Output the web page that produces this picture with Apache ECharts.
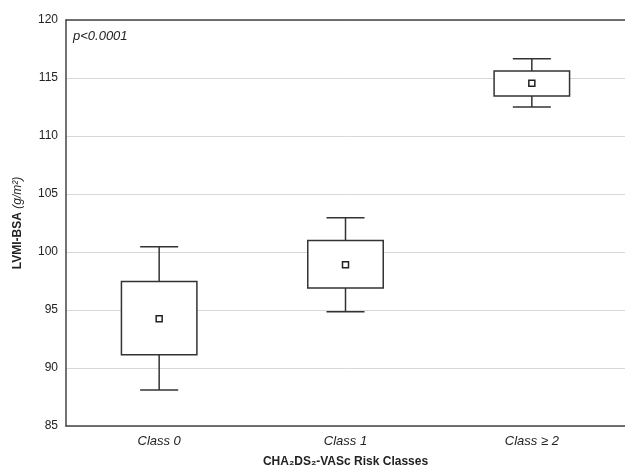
<!DOCTYPE html>
<html>
<head>
<meta charset="utf-8">
<script src="https://cdn.jsdelivr.net/npm/echarts@6/dist/echarts.min.js"></script>
<style>html,body{margin:0;padding:0;background:#fff;}#chart{width:625px;height:473px;}</style>
</head>
<body>
<div id="chart"></div>
<script>
var categories = ['Class 0', 'Class 1', 'Class \u2265 2'];
var whiskerLow = [88.1, 94.85, 112.5];
var boxLow = [91.15, 96.9, 113.45];
var boxHigh = [97.45, 101.0, 115.6];
var whiskerHigh = [100.45, 102.95, 116.65];
var meanValues = [94.25, 98.9, 114.55];
var yTicks = [85, 90, 95, 100, 105, 110, 115, 120];

var font = '"Liberation Sans", Arial, sans-serif';
var lineColor = '#333';

var boxData = categories.map(function (c, i) {
  return [i, whiskerLow[i], boxLow[i], boxHigh[i], whiskerHigh[i], meanValues[i]];
});

var chart = echarts.init(document.getElementById('chart'), null, {renderer: 'canvas'});
chart.setOption({
  backgroundColor: '#fff',
  animation: false,
  grid: {left: 66, top: 20, width: 560, height: 410, show: false},
  graphic: [{
    type: 'text', left: 73, top: 30,
    style: {text: 'p<0.0001', font: 'italic 13px ' + font, fill: '#222'}
  }],
  xAxis: [{
    type: 'category', data: categories,
    name: 'CHA\u2082DS\u2082-VASc Risk Classes', nameLocation: 'middle', nameGap: 30,
    nameTextStyle: {fontFamily: font, fontWeight: 'bold', fontSize: 12, color: '#222'},
    axisLine: {lineStyle: {color: '#444', width: 1.5}},
    axisTick: {inside: true, alignWithLabel: true, length: 4, lineStyle: {color: '#444'}},
    axisLabel: {fontFamily: font, fontStyle: 'italic', fontSize: 13, color: '#222', margin: 9},
    splitLine: {show: false}
  }, {
    type: 'category', data: categories, position: 'top',
    axisLine: {lineStyle: {color: '#444', width: 1.5}},
    axisTick: {show: false}, axisLabel: {show: false}, splitLine: {show: false}
  }],
  yAxis: {
    type: 'value', min: yTicks[0], max: yTicks[yTicks.length - 1], interval: 5,
    name: '{b|LVMI-BSA }{i|(g/m\u00b2)}', nameLocation: 'middle', nameGap: 42, nameRotate: 90,
    nameTextStyle: {rich: {
      b: {fontFamily: font, fontWeight: 'bold', fontSize: 12, color: '#222'},
      i: {fontFamily: font, fontStyle: 'italic', fontSize: 12, color: '#222'}
    }},
    axisLine: {show: true, lineStyle: {color: '#444', width: 1.5}},
    axisTick: {show: false},
    axisLabel: {fontFamily: font, fontSize: 12, color: '#222', margin: 8},
    splitLine: {show: true, lineStyle: {color: '#d8d8d8', width: 1}}
  },
  series: [{
    type: 'custom',
    data: boxData,
    encode: {x: 0, y: [1, 2, 3, 4, 5]},
    renderItem: function (params, api) {
      var idx = api.value(0);
      var band = api.size([1, 0])[0];
      var hw = band * 0.2025;
      var cw = band * 0.102;
      var pLow = api.coord([idx, api.value(1)]);
      var pQ1 = api.coord([idx, api.value(2)]);
      var pQ3 = api.coord([idx, api.value(3)]);
      var pHigh = api.coord([idx, api.value(4)]);
      var pMean = api.coord([idx, api.value(5)]);
      var x = pLow[0];
      var ls = {stroke: lineColor, lineWidth: 1.5, fill: null};
      return {
        type: 'group',
        children: [
          {type: 'line', shape: {x1: x, y1: pHigh[1], x2: x, y2: pQ3[1]}, style: ls},
          {type: 'line', shape: {x1: x, y1: pLow[1], x2: x, y2: pQ1[1]}, style: ls},
          {type: 'line', shape: {x1: x - cw, y1: pHigh[1], x2: x + cw, y2: pHigh[1]}, style: ls},
          {type: 'line', shape: {x1: x - cw, y1: pLow[1], x2: x + cw, y2: pLow[1]}, style: ls},
          {type: 'rect', shape: {x: x - hw, y: pQ3[1], width: 2 * hw, height: pQ1[1] - pQ3[1]},
            style: {stroke: lineColor, lineWidth: 1.5, fill: '#fff'}},
          {type: 'rect', shape: {x: x - 3, y: pMean[1] - 3, width: 6, height: 6},
            style: {stroke: '#222', lineWidth: 1.5, fill: '#fff'}}
        ]
      };
    }
  }]
});
</script>
</body>
</html>
